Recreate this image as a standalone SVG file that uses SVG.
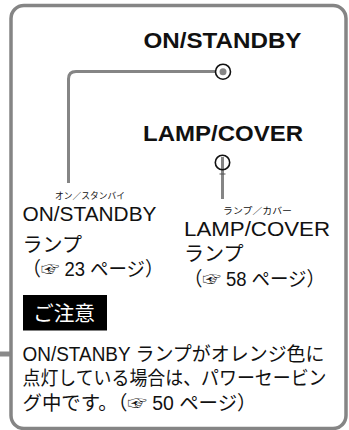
<svg xmlns="http://www.w3.org/2000/svg" width="349" height="430" viewBox="0 0 349 430">
<style>
.frame{fill:#fff;stroke:#858585;stroke-width:3.5}
.con{fill:none;stroke:#858585;stroke-width:3}
.led{fill:#fff;stroke:#111;stroke-width:1.6}
.bold{font-family:"Liberation Sans","Noto Sans CJK JP",sans-serif;font-weight:bold;font-size:22px;fill:#111}
.t{font-family:"Liberation Sans","Noto Sans CJK JP",sans-serif;font-size:21px;fill:#111}
.j{font-family:"Noto Sans CJK JP",sans-serif;font-size:20px;fill:#111}
.ruby{font-family:"Noto Sans CJK JP",sans-serif;font-size:9px;fill:#111}
.p{font-family:"Liberation Sans","Noto Sans CJK JP",sans-serif;font-size:19.5px;fill:#111}
</style>
<g id="frame">
<rect x="0" y="351.5" width="12" height="5" fill="#8a8a8a"/>
<rect class="frame" x="11" y="5.5" width="335" height="423" rx="13"/>
</g>
<g id="connectors">
<path class="con" d="M215,71.5 H76 Q68.5,71.5 68.5,79 V183"/>
<line class="con" x1="222.5" y1="157" x2="222.5" y2="199" stroke-width="2.5"/>
<line x1="219.5" y1="174" x2="225.5" y2="174" stroke="#555" stroke-width="1"/>
</g>
<g id="on-standby-indicator">
<text class="bold" x="222.5" y="48" text-anchor="middle" textLength="158" lengthAdjust="spacingAndGlyphs">ON/STANDBY</text>
<circle class="led" cx="223" cy="71.7" r="7.5"/>
<circle cx="223" cy="71.7" r="3.5" fill="#858585"/>
</g>
<g id="lamp-cover-indicator">
<text class="bold" x="223" y="141" text-anchor="middle" textLength="160" lengthAdjust="spacingAndGlyphs">LAMP/COVER</text>
<circle cx="222.5" cy="162.5" r="7.2" fill="none" stroke="#111" stroke-width="1.6"/>
</g>
<g id="on-standby-label">
<text class="ruby" x="55" y="198.5" textLength="70" lengthAdjust="spacingAndGlyphs">オン／スタンバイ</text>
<text class="t" x="22.5" y="221" textLength="134" lengthAdjust="spacingAndGlyphs">ON/STANDBY</text>
<text class="j" x="22.5" y="252">ランプ</text>
<text class="p" x="22.5" y="276" font-size="20" textLength="141" lengthAdjust="spacingAndGlyphs">（☞ 23 ページ）</text>
</g>
<g id="lamp-cover-label">
<text class="ruby" x="223" y="214" textLength="69" lengthAdjust="spacingAndGlyphs">ランプ／カバー</text>
<text class="t" x="184" y="236" textLength="146" lengthAdjust="spacingAndGlyphs">LAMP/COVER</text>
<text class="j" x="184" y="261">ランプ</text>
<text class="p" x="184" y="286" font-size="20" textLength="141" lengthAdjust="spacingAndGlyphs">（☞ 58 ページ）</text>
</g>
<g id="caution">
<rect x="23" y="295" width="84" height="35.5" fill="#000"/>
<text x="33" y="321" font-family="Noto Sans CJK JP,sans-serif" font-size="20" fill="#fff" textLength="62" lengthAdjust="spacingAndGlyphs">ご注意</text>
<text class="p" x="22.5" y="360.5" textLength="302" lengthAdjust="spacingAndGlyphs">ON/STANBY ランプがオレンジ色に</text>
<text class="p" x="22.5" y="385" font-size="17" textLength="304" lengthAdjust="spacingAndGlyphs">点灯している場合は、パワーセービン</text>
<text class="p" x="22.5" y="410" textLength="234" lengthAdjust="spacingAndGlyphs">グ中です。（☞ 50 ページ）</text>
</g>
</svg>
